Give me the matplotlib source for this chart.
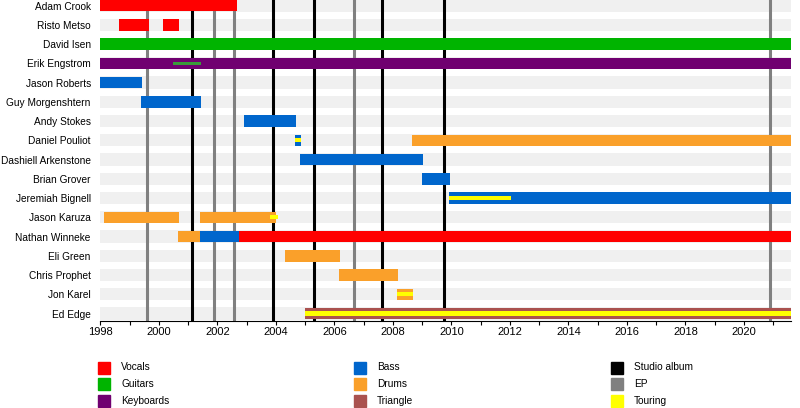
import matplotlib
matplotlib.use("Agg")
import matplotlib.pyplot as plt
from matplotlib.patches import Rectangle
from matplotlib.ticker import MultipleLocator

plt.rcParams['font.family'] = ['Liberation Sans', 'DejaVu Sans']

# timeline data (years as decimals)
START = 1998.0
END = 2021.6

members = ["Adam Crook", "Risto Metso", "David Isen", "Erik Engstrom", "Jason Roberts",
           "Guy Morgenshtern", "Andy Stokes", "Daniel Pouliot", "Dashiell Arkenstone",
           "Brian Grover", "Jeremiah Bignell", "Jason Karuza", "Nathan Winneke",
           "Eli Green", "Chris Prophet", "Jon Karel", "Ed Edge"]

vocals = [("Adam Crook", 1998.0, 2002.66), ("Risto Metso", 1998.64, 1999.67),
          ("Risto Metso", 2000.14, 2000.69), ("Nathan Winneke", 2002.74, END)]
guitars = [("David Isen", 1998.0, END)]
keyboards = [("Erik Engstrom", 1998.0, END)]
bass = [("Jason Roberts", 1998.0, 1999.43), ("Guy Morgenshtern", 1999.40, 2001.44),
        ("Andy Stokes", 2002.91, 2004.68), ("Daniel Pouliot", 2004.66, 2004.86),
        ("Dashiell Arkenstone", 2004.84, 2009.03), ("Brian Grover", 2009.01, 2009.96),
        ("Jeremiah Bignell", 2009.93, END), ("Nathan Winneke", 2001.41, 2002.74)]
drums = [("Jason Karuza", 1998.13, 2000.69), ("Jason Karuza", 2001.41, 2004.0),
         ("Nathan Winneke", 2000.67, 2001.41), ("Eli Green", 2004.31, 2006.2),
         ("Chris Prophet", 2006.16, 2008.18), ("Jon Karel", 2008.14, 2008.69),
         ("Daniel Pouliot", 2008.67, END)]
triangle = [("Ed Edge", 2005.0, END)]
guitars_minor = [("Erik Engstrom", 2000.47, 2001.44)]
touring = [("Daniel Pouliot", 2004.66, 2004.86), ("Jeremiah Bignell", 2009.93, 2012.04),
           ("Jason Karuza", 2003.8, 2004.07), ("Jon Karel", 2008.14, 2008.69),
           ("Ed Edge", 2005.0, END)]

studio_albums = [2001.15, 2003.89, 2005.3, 2007.62, 2009.74]
eps = [1999.6, 2001.9, 2002.58, 2006.67, 2020.88]

colors = {
    "Vocals": "#ff0000", "Guitars": "#00b400", "Keyboards": "#700070",
    "Bass": "#0066cc", "Drums": "#faa02a", "Triangle": "#aa524f",
    "Studio album": "#000000", "EP": "#808080", "Touring": "#ffff00",
}

fig = plt.figure(figsize=(8, 4.08), dpi=100)
ax = fig.add_axes([100.3 / 800, 1 - 320.5 / 408, (790.7 - 100.3) / 800, 320.5 / 408])

row = {name: i for i, name in enumerate(members)}

# light row bands
ax.barh(range(len(members)), END - START, left=START, height=0.64,
        color="#f0f0f0", zorder=0)

for x in studio_albums:
    ax.axvline(x, color=colors["Studio album"], lw=2.2, zorder=1)
for x in eps:
    ax.axvline(x, color=colors["EP"], lw=2.2, zorder=1)


def draw(segments, color, height=0.6, z=2):
    ys = [row[m] for m, s, e in segments]
    lefts = [s for m, s, e in segments]
    widths = [e - s for m, s, e in segments]
    ax.barh(ys, widths, left=lefts, height=height, color=color, zorder=z, linewidth=0)


draw(vocals, colors["Vocals"])
draw(guitars, colors["Guitars"])
draw(keyboards, colors["Keyboards"])
draw(bass, colors["Bass"])
draw(drums, colors["Drums"])
draw(triangle, colors["Triangle"])
draw(guitars_minor, "#3a9a3a", height=0.16, z=3)
draw(touring, colors["Touring"], height=0.22, z=3)

ax.set_xlim(START, END)
ax.set_ylim(16.36, -0.29)
ax.set_yticks(range(len(members)))
ax.set_yticklabels(members, fontsize=7.3)
ax.tick_params(axis="y", length=0, pad=6.8)
ax.xaxis.set_major_locator(MultipleLocator(2))
ax.xaxis.set_minor_locator(MultipleLocator(1))
ax.tick_params(axis="x", which="both", length=3, width=0.8, labelsize=8, pad=2)
for side in ["top", "right", "left"]:
    ax.spines[side].set_visible(False)
ax.spines["bottom"].set_linewidth(0.8)

# legend, three columns
legend_cols = [["Vocals", "Guitars", "Keyboards"],
               ["Bass", "Drums", "Triangle"],
               ["Studio album", "EP", "Touring"]]
col_x = [98, 354, 611]
row_y = [367.5, 384.3, 401]
for cx, labels in zip(col_x, legend_cols):
    for ry, lab in zip(row_y, labels):
        fig.add_artist(Rectangle((cx / 800, 1 - (ry + 6) / 408), 12 / 800, 12 / 408,
                                 transform=fig.transFigure, color=colors[lab]))
        fig.text((cx + 23) / 800, 1 - ry / 408, lab, fontsize=7.3, va="center", ha="left")

fig.savefig("out.png", dpi=100)
